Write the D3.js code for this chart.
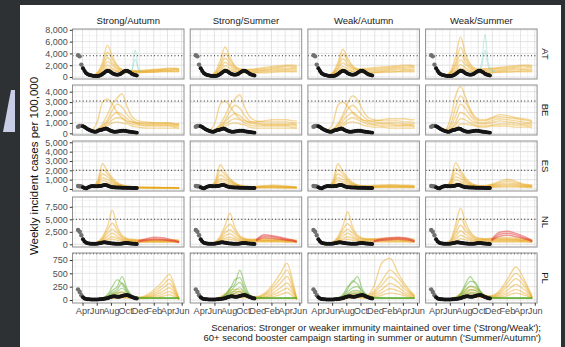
<!DOCTYPE html>
<html><head><meta charset="utf-8">
<script src="https://cdn.jsdelivr.net/npm/d3@7"></script>
<style>body{margin:0;background:#2e3134;} svg{display:block;font-family:"Liberation Sans",Arial,sans-serif;}</style>
</head><body><svg id="c" width="565" height="347"></svg>
<script>
// ---------- categories & ticks ----------
const scenarios = ["Strong/Autumn","Strong/Summer","Weak/Autumn","Weak/Summer"];
const countries = ["AT","BE","ES","NL","PL"];
const xDomainDates = ["2022-02-17","2023-06-11"];
const xTickDates = ["2022-04-01","2022-06-01","2022-08-01","2022-10-01","2022-12-01","2023-02-01","2023-04-01","2023-06-01"];
const xTickLabels = ["Apr","Jun","Aug","Oct","Dec","Feb","Apr","Jun"];
const xMinorDates = ["2022-03-01","2022-05-01","2022-07-01","2022-09-01","2022-11-01","2023-01-01","2023-03-01","2023-05-01"];
const yTickValues = [[0,2000,4000,6000,8000],[0,1000,2000,3000,4000],[0,1000,2000,3000,4000,5000],[0,2500,5000,7500],[0,250,500,750]];
const yDomains = [[-340,8140],[-160,4640],[-215,5140],[-540,9460],[-56,881]];
const thresholds = [3600,3100,2000,5000,868];

// ---------- observed (weekly from 2022-03-13) ----------
const obsStart = "2022-03-13";
const obsGreyCount = 3;
const obsAT = [3700,3500,2100,1500,1000,650,450,350,280,220,180,170,180,230,330,500,700,950,1050,1000,850,650,500,420,400,420,520,700,900,1050,1080,950,750,550,420,330,260];
const obsBE = [630,700,720,680,600,500,400,320,250,190,150,160,220,300,330,360,420,470,420,330,250,190,150,150,170,190,220,250,260,240,200,170,150,130,100,80,60];
const obsES = [320,300,280,200,100,60,150,250,300,310,300,290,300,320,330,380,420,430,380,300,240,200,180,170,160,150,150,140,140,140,130,130,120,110,110,100,100];
const obsNL = [2860,2500,1800,1000,550,300,200,150,120,110,110,120,150,200,270,350,400,380,320,250,200,160,140,120,110,110,120,150,200,250,260,230,180,140,110,90,80];
const obsPL = [200,150,90,50,30,20,15,12,10,10,10,10,10,12,15,18,22,28,35,45,55,65,70,68,62,60,65,75,85,90,92,85,72,58,45,35,30];
const observed = [obsAT, obsBE, obsES, obsNL, obsPL];

// ---------- projections ----------
const projDates = ["2022-05-15","2022-06-05","2022-06-26","2022-07-17","2022-08-07","2022-08-28","2022-09-18","2022-10-09","2022-10-30","2022-11-27","2023-01-01","2023-02-05","2023-03-12","2023-04-09","2023-05-07","2023-05-21"];

const yellowAT = [
 [[300,800,2500,5400,3500,2000,1300,1200,1100,1100,1200,1300,1400,1500,1500,1400],
  [250,700,2000,4200,3000,1800,1200,1100,1000,1000,1100,1200,1300,1400,1400,1300],
  [300,600,1600,3300,2400,1500,1100,1000,1000,900,1000,1100,1200,1200,1300,1200],
  [200,500,1300,2600,2000,1300,1000,900,900,900,900,1000,1100,1100,1200,1100],
  [250,450,1000,2000,1500,1000,800,800,800,800,800,900,1000,1000,1000,1000],
  [200,400,800,1500,1200,900,700,700,700,700,800,800,900,900,900,900]],
 [[300,900,2800,5100,3300,1900,1400,1300,1300,1400,1600,1800,1900,2000,2000,1900],
  [250,700,2100,4000,2800,1700,1300,1200,1200,1300,1400,1600,1700,1800,1800,1700],
  [300,600,1700,3200,2300,1500,1100,1100,1100,1100,1200,1400,1500,1500,1600,1500],
  [200,500,1300,2500,1900,1300,1000,900,900,1000,1100,1200,1300,1300,1400,1300],
  [250,450,1000,1900,1500,1000,800,800,800,800,900,1000,1100,1100,1100,1100],
  [200,400,800,1400,1100,900,700,700,700,700,700,800,900,900,900,900]],
 [[300,800,2500,4700,3200,1900,1400,1400,1500,1600,1700,1800,1900,2000,2000,1900],
  [250,700,2000,3900,2700,1700,1300,1300,1300,1400,1500,1600,1700,1700,1800,1700],
  [300,600,1600,3100,2200,1500,1200,1100,1200,1200,1300,1400,1500,1500,1600,1500],
  [200,500,1300,2400,1800,1300,1000,1000,1000,1000,1100,1200,1300,1300,1300,1300],
  [250,450,1000,1800,1400,1000,800,800,800,800,900,1000,1000,1100,1100,1100],
  [200,400,800,1400,1100,900,700,700,700,700,800,800,900,900,900,900]],
 [[300,1000,3500,6800,4000,2200,1500,1400,1400,1500,1600,1800,1900,2000,2000,1900],
  [250,800,2500,5000,3200,1900,1300,1200,1300,1400,1500,1600,1700,1800,1800,1700],
  [300,700,2000,3800,2600,1600,1200,1100,1100,1200,1300,1400,1500,1500,1600,1500],
  [200,600,1500,2900,2100,1400,1000,1000,1000,1000,1100,1200,1300,1300,1300,1300],
  [250,500,1100,2100,1600,1100,800,800,800,800,900,1000,1000,1100,1100,1100],
  [200,400,900,1500,1200,900,700,700,700,700,800,800,900,900,900,900]]
];
const yellowBE = [
 [[300,1200,3000,3300,2800,2000,1500,1200,1100,1000,1000,1000,1000,1000,900,900],
  [250,400,900,1800,2800,3400,3800,2600,1600,1200,1100,1000,1000,1000,900,900],
  [200,350,700,1300,2200,2800,2500,1800,1300,1000,900,900,900,900,800,800],
  [200,300,600,1100,1700,2000,1800,1400,1100,900,800,800,800,800,700,700],
  [200,300,500,900,1300,1500,1400,1100,900,800,700,700,700,700,600,600],
  [150,250,400,700,1000,1100,1000,900,700,600,500,500,500,500,500,450]],
 [[300,1100,2800,3100,2600,1900,1400,1200,1100,1100,1200,1300,1300,1300,1200,1200],
  [250,400,900,1700,2700,3300,3700,2500,1600,1200,1100,1100,1100,1100,1000,1000],
  [200,350,700,1300,2100,2700,2400,1700,1200,1000,900,900,900,900,900,800],
  [200,300,600,1100,1600,1900,1700,1300,1000,900,800,800,800,800,800,700],
  [200,300,500,900,1200,1400,1300,1000,800,700,700,700,700,700,600,600],
  [150,250,400,700,900,1000,900,800,600,500,500,500,500,500,500,450]],
 [[300,1000,2700,3000,2600,2000,1500,1300,1200,1200,1300,1400,1400,1400,1300,1300],
  [250,400,900,1800,2900,3600,3200,2300,1600,1300,1200,1200,1200,1100,1100,1000],
  [200,350,800,1500,2300,2700,2300,1700,1300,1100,1000,1000,1000,900,900,900],
  [200,300,600,1200,1700,2000,1700,1300,1100,900,900,900,800,800,800,700],
  [200,300,500,900,1300,1500,1300,1100,900,800,700,700,700,700,700,600],
  [150,250,400,700,1000,1100,1000,800,700,600,600,500,500,500,500,500]],
 [[300,1500,3600,4500,3500,2300,1600,1300,1300,1500,1800,1700,1500,1400,1300,1200],
  [250,900,2500,3600,3000,2100,1400,1200,1200,1400,1600,1500,1400,1300,1200,1100],
  [200,600,1700,2800,2400,1700,1200,1000,1000,1200,1400,1300,1200,1100,1000,1000],
  [200,400,1100,2000,1800,1300,1000,900,900,1000,1200,1100,1000,900,900,800],
  [200,300,800,1400,1300,1000,800,700,700,800,900,900,800,800,700,700],
  [150,250,500,900,900,800,700,600,600,700,700,700,600,600,600,500]]
];
const yellowES = [
 [[250,900,2700,1900,1200,700,450,300,250,200,200,180,170,160,150,150],
  [250,700,2100,1600,1000,600,400,300,220,200,180,160,150,150,140,140],
  [300,600,1600,1300,850,500,350,250,200,170,150,140,130,130,120,120],
  [250,500,1200,1000,700,450,300,220,180,150,130,120,120,110,110,110],
  [250,400,900,750,550,350,250,200,150,130,120,110,100,100,100,100],
  [200,350,600,550,400,300,200,160,130,110,100,100,90,90,90,90]],
 [[250,900,2600,1800,1100,650,400,300,260,280,350,400,350,300,250,220],
  [250,700,2000,1500,950,580,380,280,230,250,300,330,300,260,220,200],
  [300,600,1500,1200,800,480,330,240,200,220,250,270,250,220,190,170],
  [250,500,1100,950,650,420,280,210,180,190,210,220,200,180,160,150],
  [250,400,850,700,500,330,240,190,150,150,160,170,160,140,130,120],
  [200,350,600,500,380,280,200,150,120,120,120,120,110,100,100,100]],
 [[250,900,2700,1900,1200,700,450,350,350,380,420,450,420,400,380,350],
  [250,700,2100,1600,1000,600,400,320,300,320,350,380,360,340,320,300],
  [300,600,1600,1300,850,500,350,280,260,270,300,310,300,290,270,260],
  [250,500,1200,1000,700,450,300,240,220,230,250,260,250,240,230,220],
  [250,400,900,750,550,350,250,200,180,190,200,210,200,200,190,180],
  [200,350,600,550,400,300,200,160,140,150,160,160,160,150,150,140]],
 [[250,1000,2800,2000,1200,700,450,350,350,500,800,1050,800,550,450,400],
  [250,800,2200,1700,1000,600,400,320,320,450,650,850,650,480,400,350],
  [300,650,1700,1400,850,500,350,280,280,380,520,650,520,400,340,300],
  [250,550,1300,1100,700,450,300,240,240,300,400,480,400,320,280,250],
  [250,450,950,800,550,350,250,200,200,240,300,340,300,250,220,200],
  [200,350,650,600,400,300,200,160,160,180,200,220,200,180,170,160]]
];
const yellowNL = [
 [[200,500,1500,3500,6800,3500,1800,1200,1000,900,900,900,900,900,900,800],
  [200,400,1200,2800,4200,2800,1500,1000,900,800,800,800,800,800,800,700],
  [150,350,1000,2200,3000,2200,1300,900,800,700,700,700,700,700,700,600],
  [150,300,800,1600,2200,1600,1000,800,700,600,600,600,600,600,600,500],
  [150,250,600,1100,1500,1200,800,700,600,500,500,500,500,500,500,450],
  [100,200,450,800,1000,800,600,500,450,400,400,400,400,400,400,350]],
 [[200,500,1600,3800,6200,3300,1700,1200,1000,1000,1100,1100,1000,900,900,800],
  [200,400,1300,3000,4000,2700,1500,1000,900,900,900,900,900,800,800,700],
  [150,350,1000,2300,2900,2100,1300,900,800,800,800,800,800,700,700,600],
  [150,300,800,1700,2100,1500,1000,800,700,700,700,700,700,600,600,500],
  [150,250,600,1200,1400,1100,800,700,600,600,600,600,600,500,500,450],
  [100,200,450,800,950,800,600,500,450,450,450,450,450,400,400,350]],
 [[200,500,1500,3600,6500,3400,1800,1300,1100,1100,1200,1300,1300,1200,1100,1000],
  [200,400,1200,2900,4100,2800,1500,1100,1000,1000,1000,1100,1100,1000,900,800],
  [150,350,1000,2200,3000,2200,1300,1000,900,900,900,900,900,800,800,700],
  [150,300,800,1600,2200,1600,1000,800,800,800,800,800,800,700,700,600],
  [150,250,600,1100,1500,1200,800,700,600,600,600,600,600,600,500,500],
  [100,200,450,800,1000,800,600,500,450,450,450,450,450,450,400,400]],
 [[250,900,4000,7200,4500,2500,1500,1200,1100,1200,1300,1300,1200,1100,1000,900],
  [200,700,3000,5200,3500,2100,1300,1100,1000,1100,1100,1100,1000,900,900,800],
  [200,500,2200,3800,2700,1700,1100,900,900,900,900,900,900,800,800,700],
  [150,400,1500,2700,2000,1300,900,800,800,800,800,800,800,700,700,600],
  [150,300,1000,1800,1400,1000,700,600,600,600,600,600,600,600,500,500],
  [100,200,600,1100,900,700,500,450,450,450,450,450,450,450,400,400]]
];
const yellowPL = [
 [[20,25,40,70,110,140,150,120,70,50,90,200,350,480,200,20],
  [20,20,35,55,80,100,110,90,60,45,70,160,280,390,160,20],
  [15,20,30,45,60,80,90,70,50,40,60,120,220,310,130,15],
  [15,15,25,35,50,60,70,55,40,35,50,90,160,230,100,15],
  [15,15,20,30,40,50,55,45,35,30,40,70,110,160,80,10],
  [10,15,15,25,30,35,40,35,30,25,30,45,70,100,50,10]],
 [[20,30,60,120,180,200,190,150,80,60,120,280,500,690,280,20],
  [20,25,45,90,140,160,150,120,70,50,100,230,400,560,230,20],
  [15,20,35,70,100,120,110,90,60,45,80,180,320,440,180,15],
  [15,20,30,50,80,90,85,70,50,40,60,130,230,320,140,15],
  [15,15,25,40,60,70,65,55,40,35,45,90,160,220,100,10],
  [10,15,20,30,40,45,45,40,30,25,35,60,100,140,60,10]],
 [[20,25,40,70,110,140,150,120,90,250,700,780,500,300,150,80],
  [20,20,35,55,80,100,110,90,75,160,360,560,420,250,130,70],
  [15,20,30,45,60,80,90,70,60,130,280,430,330,200,110,60],
  [15,15,25,35,50,60,70,55,50,100,200,310,240,150,90,50],
  [15,15,20,30,40,50,55,45,40,70,140,210,170,110,70,40],
  [10,15,15,25,30,35,40,35,30,50,90,130,110,80,50,30]],
 [[20,30,60,120,200,250,220,160,90,80,180,400,620,450,200,60],
  [20,25,45,90,160,200,180,130,80,70,150,330,500,380,170,50],
  [15,20,35,70,120,150,140,100,65,60,120,260,400,300,140,40],
  [15,20,30,50,90,110,100,80,55,50,90,190,290,220,110,35],
  [15,15,25,40,60,75,70,60,45,40,65,130,200,150,80,30],
  [10,15,20,30,40,50,50,45,35,30,45,85,130,100,60,25]]
];
const yellowAll = [yellowAT, yellowBE, yellowES, yellowNL, yellowPL];

const greenPL = [
 [[15,20,40,100,250,380,300,160,80,50,40,40,40,40,40,40],
  [15,20,35,80,180,250,440,220,90,50,40,40,40,40,40,40],
  [15,20,30,60,140,200,320,180,80,45,40,35,35,35,35,35],
  [15,20,30,50,110,160,220,140,70,40,35,30,30,30,30,30],
  [15,15,25,40,80,120,150,100,60,35,30,30,30,30,30,30]],
 [[15,20,40,100,220,300,560,300,100,50,40,40,40,40,40,40],
  [15,20,35,90,200,380,420,220,90,50,40,40,40,40,40,40],
  [15,20,30,70,150,260,330,180,80,45,40,35,35,35,35,35],
  [15,20,30,50,110,180,230,140,70,40,35,30,30,30,30,30],
  [15,15,25,40,80,130,160,100,60,35,30,30,30,30,30,30]],
 [[15,20,40,100,250,330,440,200,90,50,40,40,40,40,40,40],
  [15,20,35,80,200,360,300,170,80,50,40,40,40,40,40,40],
  [15,20,30,60,150,230,250,150,70,45,40,35,35,35,35,35],
  [15,20,30,50,110,170,180,120,60,40,35,30,30,30,30,30],
  [15,15,25,40,80,120,130,90,50,35,30,30,30,30,30,30]],
 [[15,20,40,120,300,440,300,160,80,50,40,40,40,40,40,40],
  [15,20,35,100,250,350,330,180,80,50,40,40,40,40,40,40],
  [15,20,30,80,180,260,240,150,70,45,40,35,35,35,35,35],
  [15,20,30,60,130,190,180,120,60,40,35,30,30,30,30,30],
  [15,15,25,45,90,130,130,90,50,35,30,30,30,30,30,30]]
];

const redDatesNL = ["2022-11-27","2023-01-01","2023-02-05","2023-03-12","2023-04-09","2023-05-07","2023-05-21"];
const redNL = [
 [[700,1100,1400,1300,1000,700,500],[600,900,1100,1000,800,600,400],[500,750,900,850,700,500,350]],
 [[900,1900,1700,1400,1100,800,600],[800,1600,1500,1200,900,700,500],[700,1300,1200,1000,800,600,450]],
 [[700,1100,1300,1400,1300,1000,700],[600,900,1100,1200,1100,800,600],[500,800,900,1000,900,700,500]],
 [[900,2400,2600,2200,1700,1100,700],[800,2000,2200,1900,1400,950,600],[700,1600,1800,1500,1200,800,500]]
];

const tealDatesAT = ["2022-10-02","2022-10-16","2022-10-30","2022-11-13","2022-11-27","2022-12-11"];
const tealAT = [
 [[1000,1000,1200,4600,1500,1000],[900,900,1100,3000,1300,900]],
 [],
 [],
 [[1000,2500,7200,2500,1200,1000],[900,1800,4500,1800,1000,900]]
];

const caption1 = "Scenarios: Stronger or weaker immunity maintained over time ('Strong/Weak');";
const caption2 = "60+ second booster campaign starting in summer or autumn ('Summer/Autumn')";
const yTitle = "Weekly incident cases per 100,000";

// ---------- drawing ----------
const parse = d3.timeParse("%Y-%m-%d");
const svg = d3.select("#c");
svg.append("rect").attr("width",565).attr("height",347).attr("fill","#2e3134");
svg.append("polygon").attr("points","11,90 15,90 15,132 3,132").attr("fill","#c9cde6");
svg.append("rect").attr("x",20).attr("y",5).attr("width",541).attr("height",342).attr("fill","#fff");

const panelLeft0 = 72.5, panelW = 111.5, panelStep = 117.7;
const panelTop0 = 29, panelH = 50, rowStep = 56;

const x = d3.scaleTime().domain(xDomainDates.map(parse)).range([0, panelW]);
const pDates = projDates.map(parse);

const colors = {yellow:"#E8A30E", green:"#5FAE2E", red:"#E4463F", teal:"#6FD0BC", obs:"#151515", grey:"#707070"};

function drawSet(g, y, dates, lines, color, op, w){
  const line = d3.line().x((d,i)=>x(dates[i])).y(d=>y(d)).curve(d3.curveMonotoneX);
  lines.forEach(vals=>{
    g.append("path").attr("d", line(vals)).attr("fill","none")
      .attr("stroke", color).attr("stroke-opacity", op).attr("stroke-width", w).attr("stroke-linejoin","round");
  });
}

countries.forEach((cty, r) => {
  const py = panelTop0 + r*rowStep;
  const y = d3.scaleLinear().domain(yDomains[r]).range([panelH, 0]);
  const majors = yTickValues[r];
  const step = majors[1]-majors[0];
  const minors = majors.map(v=>v+step/2).filter(v=>v<yDomains[r][1]);

  scenarios.forEach((sc, c) => {
    const px = panelLeft0 + c*panelStep;
    const g = svg.append("g").attr("transform",`translate(${px},${py})`);
    const cid = `clip${r}_${c}`;
    g.append("clipPath").attr("id",cid).append("rect").attr("width",panelW).attr("height",panelH);
    g.append("rect").attr("width",panelW).attr("height",panelH).attr("fill","#fff");
    // grid
    const grid = g.append("g");
    minors.forEach(v=>grid.append("line").attr("x1",0).attr("x2",panelW).attr("y1",y(v)).attr("y2",y(v)).attr("stroke","#ebebeb").attr("stroke-width",0.5));
    xMinorDates.forEach(d=>grid.append("line").attr("x1",x(parse(d))).attr("x2",x(parse(d))).attr("y1",0).attr("y2",panelH).attr("stroke","#ebebeb").attr("stroke-width",0.5));
    majors.forEach(v=>grid.append("line").attr("x1",0).attr("x2",panelW).attr("y1",y(v)).attr("y2",y(v)).attr("stroke","#dcdcdc").attr("stroke-width",0.8));
    xTickDates.forEach(d=>grid.append("line").attr("x1",x(parse(d))).attr("x2",x(parse(d))).attr("y1",0).attr("y2",panelH).attr("stroke","#dcdcdc").attr("stroke-width",0.8));

    const plot = g.append("g").attr("clip-path",`url(#${cid})`);
    drawSet(plot, y, pDates, yellowAll[r][c], colors.yellow, 0.42, 1.4);
    if (cty==="PL") drawSet(plot, y, pDates, greenPL[c], colors.green, 0.5, 1.2);
    if (cty==="NL") drawSet(plot, y, redDatesNL.map(parse), redNL[c], colors.red, 0.55, 1.4);
    if (cty==="AT") drawSet(plot, y, tealDatesAT.map(parse), tealAT[c], colors.teal, 0.45, 0.9);

    // threshold
    plot.append("line").attr("x1",0).attr("x2",panelW).attr("y1",y(thresholds[r])).attr("y2",y(thresholds[r]))
      .attr("stroke","#222").attr("stroke-width",1.1).attr("stroke-dasharray","1,2.4");

    // observed
    const obs = observed[r];
    const od = obs.map((v,i)=>d3.timeWeek.offset(parse(obsStart), i));
    const oline = d3.line().x((d,i)=>x(od[i+obsGreyCount])).y(d=>y(d));
    plot.append("path").attr("d", oline(obs.slice(obsGreyCount))).attr("fill","none")
      .attr("stroke",colors.obs).attr("stroke-width",3.2).attr("stroke-linejoin","round").attr("stroke-linecap","round");
    obs.forEach((v,i)=>{
      plot.append("circle").attr("cx",x(od[i])).attr("cy",y(v)).attr("r", i<obsGreyCount?2.2:2)
        .attr("fill", i<obsGreyCount?colors.grey:colors.obs);
    });

    // border
    g.append("rect").attr("width",panelW).attr("height",panelH).attr("fill","none").attr("stroke","#8f8f8f").attr("stroke-width",1);

    // y axis on first column
    if (c===0){
      const ax = g.append("g").call(d3.axisLeft(y).tickValues(majors).tickSize(2.75).tickPadding(2).tickFormat(d3.format(",")));
      ax.select(".domain").remove();
      ax.selectAll("line").attr("stroke","#333");
      ax.selectAll("text").attr("fill","#4d4d4d").style("font-size","9px").style("font-family","Liberation Sans, Arial, sans-serif");
    }
    // x axis on bottom row
    if (r===countries.length-1){
      const ax = g.append("g").attr("transform",`translate(0,${panelH})`)
        .call(d3.axisBottom(x).tickValues(xTickDates.map(parse)).tickSize(2.75).tickPadding(2)
        .tickFormat((d,i)=>xTickLabels[i]));
      ax.select(".domain").remove();
      ax.selectAll("line").attr("stroke","#333");
      ax.selectAll("text").attr("fill","#4d4d4d").style("font-size","9.2px").style("font-family","Liberation Sans, Arial, sans-serif");
    }
    // top strips
    if (r===0){
      svg.append("text").attr("x",px+panelW/2).attr("y",24).attr("text-anchor","middle")
        .attr("fill","#1a1a1a").style("font-size","9.5px").text(sc);
    }
    // right strips
    if (c===scenarios.length-1){
      svg.append("text").attr("transform",`translate(${px+panelW+8},${py+panelH/2}) rotate(90)`)
        .attr("text-anchor","middle").attr("dominant-baseline","central")
        .attr("fill","#1a1a1a").style("font-size","9.5px").text(cty);
    }
  });
});

svg.append("text").attr("transform",`translate(37.5,166) rotate(-90)`).attr("text-anchor","middle")
  .attr("fill","#111").style("font-size","11.5px").text(yTitle);
svg.append("text").attr("x",541).attr("y",330.5).attr("text-anchor","end").attr("fill","#222").style("font-size","9.5px").text(caption1);
svg.append("text").attr("x",541).attr("y",340.5).attr("text-anchor","end").attr("fill","#222").style("font-size","9.5px").text(caption2);
</script></body></html>
